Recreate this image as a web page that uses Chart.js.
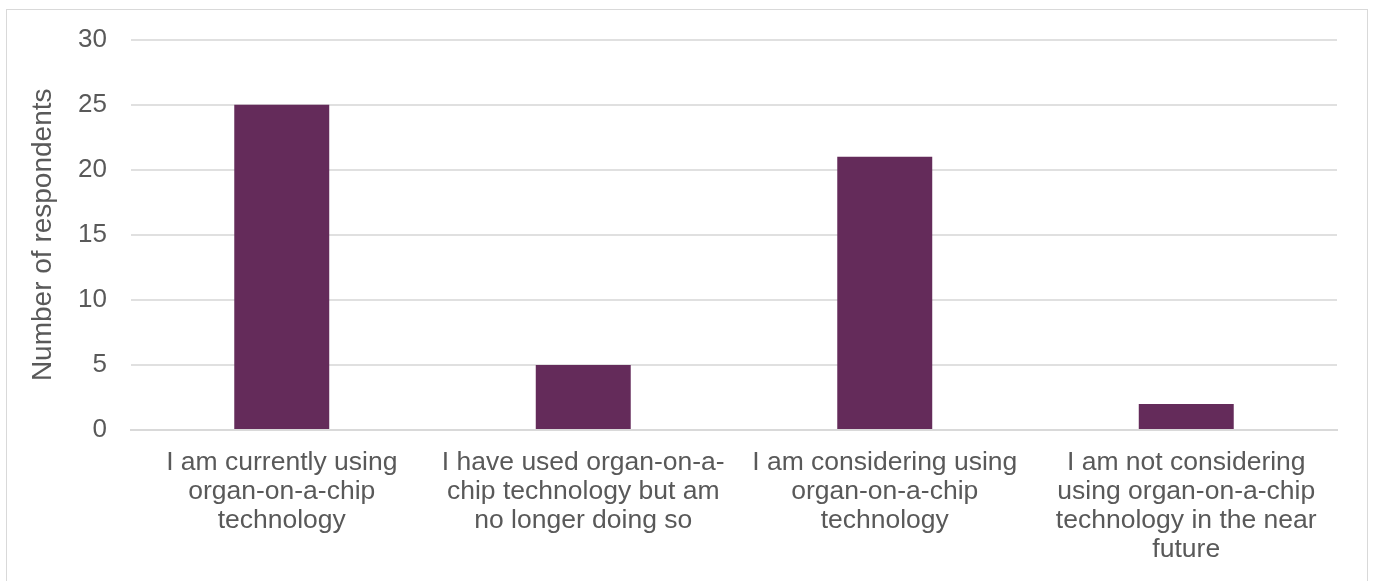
<!DOCTYPE html>
<html>
<head>
<meta charset="utf-8">
<script src="https://cdn.jsdelivr.net/npm/chart.js@4"></script>
<style>
  html, body { margin: 0; padding: 0; background: #ffffff; overflow: hidden; }
  #frame {
    position: absolute; left: 6px; top: 9px; width: 1362px; height: 600px;
    border: 1px solid #d9d9d9; box-sizing: border-box;
  }
  #wrap { position: absolute; left: 0; top: 0; width: 1375px; height: 581px; }
</style>
</head>
<body>
<div id="frame"></div>
<div id="wrap"><canvas id="chart" width="1375" height="581"></canvas></div>
<script>
// Survey responses on organ-on-a-chip usage
const categories = [
  ["I am currently using", "organ-on-a-chip", "technology"],
  ["I have used organ-on-a-", "chip technology but am", "no longer doing so"],
  ["I am considering using", "organ-on-a-chip", "technology"],
  ["I am not considering", "using organ-on-a-chip", "technology in the near", "future"]
];
const respondents = [25, 5, 21, 2];
const yTicks = [0, 5, 10, 15, 20, 25, 30];

const textColor = '#595959';
const fontFamily = '"Liberation Sans", Arial, sans-serif';

new Chart(document.getElementById('chart'), {
  type: 'bar',
  data: {
    labels: categories,
    datasets: [{
      label: 'Number of respondents',
      data: respondents,
      backgroundColor: '#642b5a',
      borderWidth: 0,
      categoryPercentage: 0.315,
      barPercentage: 1.0
    }]
  },
  options: {
    responsive: false,
    animation: false,
    layout: { padding: { left: 26, right: 38, top: 26, bottom: 0 } },
    plugins: { legend: { display: false }, tooltip: { enabled: false } },
    scales: {
      x: {
        grid: { display: false, drawTicks: false },
        border: { display: true, color: '#d9d9d9', width: 2 },
        ticks: {
          color: textColor,
          font: { family: fontFamily, size: 26.5, lineHeight: 1.095 },
          padding: 18,
          maxRotation: 0,
          autoSkip: false
        },
        afterFit(scale) { scale.height = 151; }
      },
      y: {
        min: 0, max: 30,
        afterBuildTicks(scale) { scale.ticks = yTicks.map(v => ({ value: v })); },
        grid: { color: '#e0e0e0', lineWidth: 2, drawTicks: false },
        border: { display: false },
        ticks: {
          color: textColor,
          font: { family: fontFamily, size: 26 },
          padding: 24
        },
        title: {
          display: true,
          text: 'Number of respondents',
          color: textColor,
          font: { family: fontFamily, size: 28 },
          padding: 0
        },
        afterFit(scale) { scale.width = 105; }
      }
    }
  }
});
</script>
</body>
</html>
